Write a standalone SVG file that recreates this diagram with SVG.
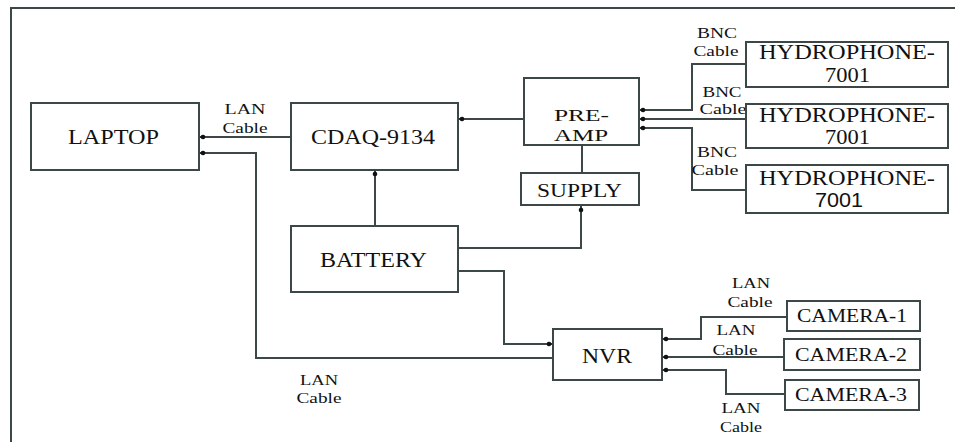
<svg xmlns="http://www.w3.org/2000/svg" width="955" height="442" viewBox="0 0 955 442">
<defs>
<style>
.box{fill:#fff;stroke:#3c4747;stroke-width:2}
.ln{fill:none;stroke:#3c4747;stroke-width:2}
.arr{marker-end:url(#dot)}
.t{font-family:"Liberation Serif","Times New Roman",serif;fill:#111}
.big{font-size:20px}
.mid{font-size:18px}
.pa{font-size:16px}
.sm{font-size:14px}
</style>
<marker id="dot" viewBox="-10 -5 12 10" refX="0" refY="0" markerWidth="12" markerHeight="10" markerUnits="userSpaceOnUse" orient="auto">
<circle cx="-4" cy="0" r="2.3" fill="#111"/>
<path d="M-5,-2.2 L-1,0 L-5,2.2 z" fill="#111"/>
</marker>
</defs>
<rect width="955" height="442" fill="#fff"/>
<path class="ln" d="M11,442 V8 H955" stroke-width="2.5"/>

<g id="connectors">
<path class="ln arr" d="M291,137 H199"/>
<path class="ln arr" d="M553,358 H256 V153 H199"/>
<path class="ln arr" d="M375,226 V170"/>
<path class="ln arr" d="M524,119 H458"/>
<path class="ln" d="M582,145 V173"/>
<path class="ln arr" d="M458,248 H581 V206"/>
<path class="ln arr" d="M458,271 H504 V344 H553"/>
<path class="ln arr" d="M746,64 H692 V110 H639"/>
<path class="ln arr" d="M746,119 H639"/>
<path class="ln arr" d="M746,190 H692 V128 H639"/>
<path class="ln arr" d="M787,317 H701 V339 H662"/>
<path class="ln arr" d="M784,357 H662"/>
<path class="ln arr" d="M785,394 H726 V370 H662"/>
</g>

<g id="labels">
<text class="t sm" x="245" y="114" text-anchor="middle" textLength="41" lengthAdjust="spacingAndGlyphs">LAN</text>
<text class="t sm" x="245" y="133" text-anchor="middle" textLength="45" lengthAdjust="spacingAndGlyphs">Cable</text>
<text class="t sm" x="319" y="385" text-anchor="middle" textLength="38" lengthAdjust="spacingAndGlyphs">LAN</text>
<text class="t sm" x="319" y="403" text-anchor="middle" textLength="45" lengthAdjust="spacingAndGlyphs">Cable</text>
<text class="t sm" x="717" y="38" text-anchor="middle" textLength="40" lengthAdjust="spacingAndGlyphs">BNC</text>
<text class="t sm" x="716" y="56" text-anchor="middle" textLength="45" lengthAdjust="spacingAndGlyphs">Cable</text>
<text class="t sm" x="722" y="97" text-anchor="middle" textLength="39" lengthAdjust="spacingAndGlyphs">BNC</text>
<text class="t sm" x="723" y="114" text-anchor="middle" textLength="47" lengthAdjust="spacingAndGlyphs">Cable</text>
<text class="t sm" x="717" y="157" text-anchor="middle" textLength="40" lengthAdjust="spacingAndGlyphs">BNC</text>
<text class="t sm" x="715" y="175" text-anchor="middle" textLength="47" lengthAdjust="spacingAndGlyphs">Cable</text>
<text class="t sm" x="751" y="288" text-anchor="middle" textLength="38" lengthAdjust="spacingAndGlyphs">LAN</text>
<text class="t sm" x="750" y="307" text-anchor="middle" textLength="45" lengthAdjust="spacingAndGlyphs">Cable</text>
<text class="t sm" x="736" y="335" text-anchor="middle" textLength="39" lengthAdjust="spacingAndGlyphs">LAN</text>
<text class="t sm" x="735" y="355" text-anchor="middle" textLength="45" lengthAdjust="spacingAndGlyphs">Cable</text>
<text class="t sm" x="741" y="413" text-anchor="middle" textLength="39" lengthAdjust="spacingAndGlyphs">LAN</text>
<text class="t sm" x="741" y="432" text-anchor="middle" textLength="42" lengthAdjust="spacingAndGlyphs">Cable</text>
</g>

<g id="laptop">
<rect class="box" x="31" y="103" width="168" height="67"/>
<text class="t big" x="68" y="144" textLength="91" lengthAdjust="spacingAndGlyphs">LAPTOP</text>
</g>
<g id="cdaq">
<rect class="box" x="291" y="103" width="167" height="67"/>
<text class="t big" x="311" y="144" textLength="124" lengthAdjust="spacingAndGlyphs">CDAQ-9134</text>
</g>
<g id="battery">
<rect class="box" x="291" y="226" width="167" height="66"/>
<text class="t big" x="320" y="267" textLength="107" lengthAdjust="spacingAndGlyphs">BATTERY</text>
</g>
<g id="preamp">
<rect class="box" x="524" y="78" width="115" height="67"/>
<text class="t pa" x="554" y="121" textLength="55" lengthAdjust="spacingAndGlyphs">PRE-</text>
<text class="t pa" x="554" y="141" textLength="54" lengthAdjust="spacingAndGlyphs">AMP</text>
</g>
<g id="supply">
<rect class="box" x="521" y="173" width="118" height="32"/>
<text class="t mid" x="537" y="197" textLength="85" lengthAdjust="spacingAndGlyphs">SUPPLY</text>
</g>
<g id="hydrophone1">
<rect class="box" x="746" y="42" width="202" height="45"/>
<text class="t big" x="759" y="59" textLength="176" lengthAdjust="spacingAndGlyphs">HYDROPHONE-</text>
<text class="t big" x="825" y="82" textLength="45" lengthAdjust="spacingAndGlyphs">7001</text>
</g>
<g id="hydrophone2">
<rect class="box" x="746" y="104" width="202" height="44"/>
<text class="t big" x="759" y="122" textLength="176" lengthAdjust="spacingAndGlyphs">HYDROPHONE-</text>
<text class="t big" x="825" y="144" textLength="45" lengthAdjust="spacingAndGlyphs">7001</text>
</g>
<g id="hydrophone3">
<rect class="box" x="746" y="165" width="202" height="48"/>
<text class="t big" x="759" y="185" textLength="176" lengthAdjust="spacingAndGlyphs">HYDROPHONE-</text>
<text x="815" y="207" font-family="Liberation Sans, Arial, sans-serif" font-size="20" fill="#111" textLength="48" lengthAdjust="spacingAndGlyphs">7001</text>
</g>
<g id="nvr">
<rect class="box" x="553" y="329" width="109" height="51"/>
<text class="t big" x="582" y="363" textLength="50" lengthAdjust="spacingAndGlyphs">NVR</text>
</g>
<g id="camera1">
<rect class="box" x="787" y="301" width="133" height="30"/>
<text class="t mid" x="797" y="322" textLength="110" lengthAdjust="spacingAndGlyphs">CAMERA-1</text>
</g>
<g id="camera2">
<rect class="box" x="784" y="339" width="136" height="31"/>
<text class="t mid" x="795" y="361" textLength="112" lengthAdjust="spacingAndGlyphs">CAMERA-2</text>
</g>
<g id="camera3">
<rect class="box" x="785" y="380" width="134" height="30"/>
<text class="t mid" x="795" y="401" textLength="112" lengthAdjust="spacingAndGlyphs">CAMERA-3</text>
</g>
</svg>
